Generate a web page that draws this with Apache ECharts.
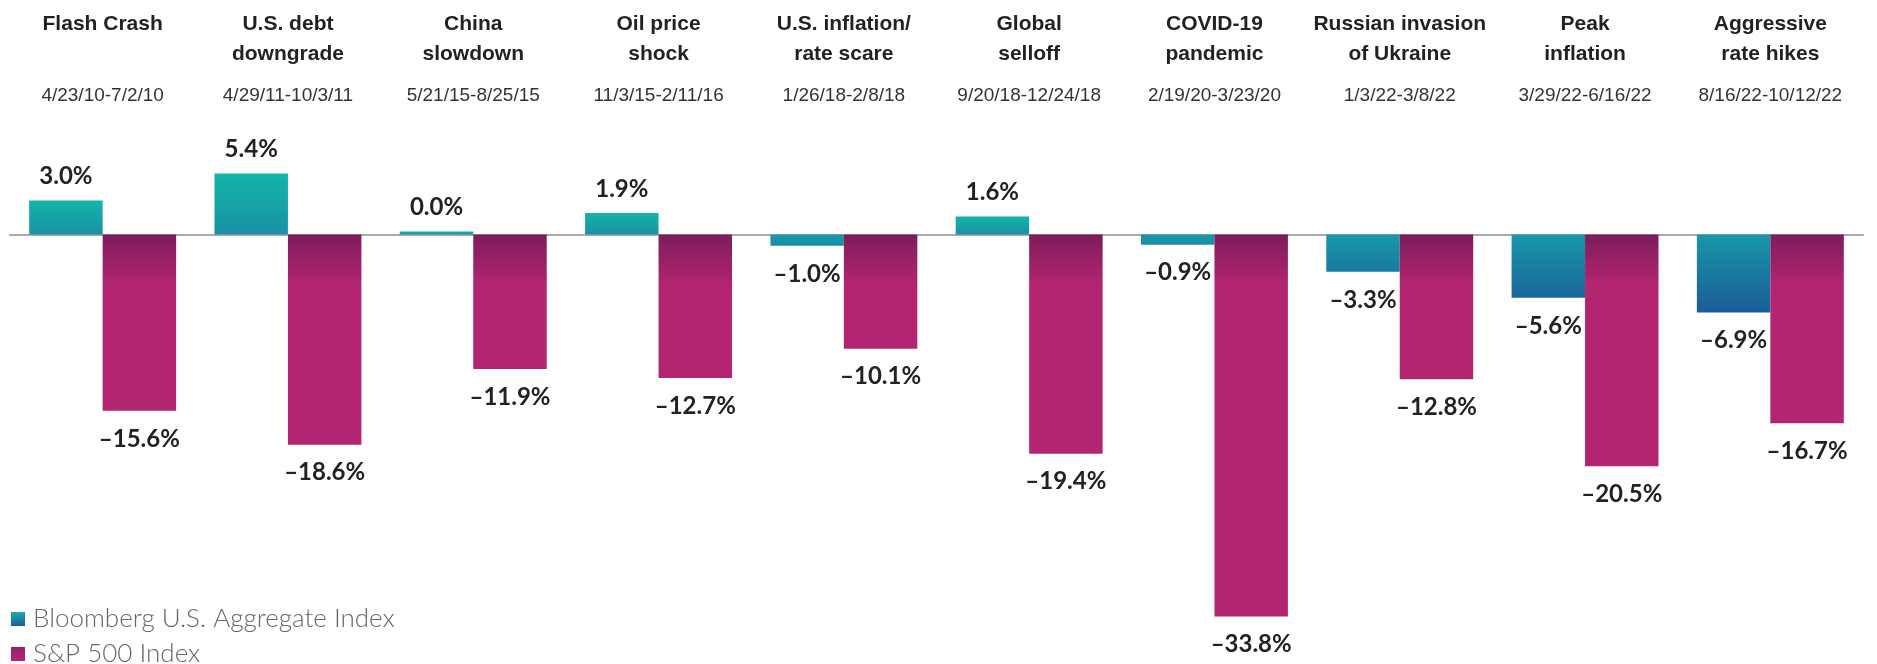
<!DOCTYPE html>
<html>
<head>
<meta charset="utf-8">
<script src="https://cdn.jsdelivr.net/npm/echarts@6/dist/echarts.min.js"></script>
<style>
html,body{margin:0;padding:0;background:#fff;}
#chart{width:1877px;height:664px;}
</style>
</head>
<body>
<div id="chart"></div>
<script>
// ---- data ----
const categories = [
  "Flash Crash", "U.S. debt\ndowngrade", "China\nslowdown", "Oil price\nshock",
  "U.S. inflation/\nrate scare", "Global\nselloff", "COVID-19\npandemic",
  "Russian invasion\nof Ukraine", "Peak\ninflation", "Aggressive\nrate hikes"
];
const dateRanges = [
  "4/23/10-7/2/10", "4/29/11-10/3/11", "5/21/15-8/25/15", "11/3/15-2/11/16",
  "1/26/18-2/8/18", "9/20/18-12/24/18", "2/19/20-3/23/20", "1/3/22-3/8/22",
  "3/29/22-6/16/22", "8/16/22-10/12/22"
];
const bloombergValues = [3.0, 5.4, 0.0, 1.9, -1.0, 1.6, -0.9, -3.3, -5.6, -6.9];
const sp500Values = [-15.6, -18.6, -11.9, -12.7, -10.1, -19.4, -33.8, -12.8, -20.5, -16.7];
const seriesNames = ["Bloomberg U.S. Aggregate Index", "S&P 500 Index"];

// ---- styling helpers ----
function hexToRgb(h){h=h.replace('#','');return [0,2,4].map(i=>parseInt(h.substr(i,2),16));}
function lerpColor(a,b,t){const A=hexToRgb(a),B=hexToRgb(b);return 'rgb('+A.map((v,i)=>Math.round(v+(B[i]-v)*t)).join(',')+')';}
function grad(stops){return new echarts.graphic.LinearGradient(0,0,0,1,stops);}

function bloombergColor(v){
  if (v >= 0) return grad([{offset:0,color:'#13b5a8'},{offset:1,color:'#1a91a5'}]);
  const t = Math.min(1, Math.abs(v)/7);
  return grad([{offset:0,color:'#1897a8'},{offset:1,color:lerpColor('#1897a8','#1a5b99',t)}]);
}
function spColor(v){
  const o = Math.min(1, 4.5/Math.max(Math.abs(v),0.01));
  return grad([{offset:0,color:'#7b1d5b'},{offset:o,color:'#b42571'},{offset:1,color:'#b42571'}]);
}
function fmt(v){ return (v < 0 ? '\u2013' + Math.abs(v).toFixed(1) : v.toFixed(1)) + '%'; }
function toItems(vals, colorFn){
  return vals.map(v => ({
    value: v,
    itemStyle: { color: colorFn(v) },
    label: v >= 0 ? { position: 'top', distance: 12 } : { position: 'bottom', distance: 16 }
  }));
}

const labelStyle = {
  show: true,
  formatter: p => fmt(p.value),
  fontFamily: 'Lato, "Open Sans", sans-serif',
  fontSize: 24,
  fontWeight: 'bold',
  color: '#222'
};

const chart = echarts.init(document.getElementById('chart'));
chart.setOption({
  animation: false,
  backgroundColor: '#fff',
  grid: { left: 10, right: 14, top: 121.5, bottom: 34, containLabel: false },
  legend: {
    orient: 'vertical',
    left: 11,
    top: 606,
    height: 120,
    padding: 0,
    itemWidth: 14,
    itemHeight: 14,
    itemGap: 9,
    icon: 'rect',
    textStyle: { fontFamily: 'Lato, sans-serif', fontWeight: 300, fontSize: 26, color: '#666', lineHeight: 24, padding: [0,0,0,3] },
    data: [
      { name: seriesNames[0], itemStyle: { color: grad([{offset:0,color:'#16b0a8'},{offset:1,color:'#1a5e9a'}]) } },
      { name: seriesNames[1], itemStyle: { color: grad([{offset:0,color:'#9a2068'},{offset:1,color:'#b42571'}]) } }
    ]
  },
  xAxis: [
    {
      type: 'category',
      data: categories,
      axisLine: { onZero: true, lineStyle: { color: '#aaaaaa', width: 2 } },
      axisTick: { show: false },
      axisLabel: { show: false },
      splitLine: { show: false }
    },
    {
      type: 'category',
      position: 'top',
      data: categories,
      axisLine: { show: false },
      axisTick: { show: false },
      axisLabel: {
        show: true,
        interval: 0,
        margin: -1,
        formatter: (val, idx) => {
          const parts = val.split('\n');
          return '{n|' + parts[0] + '}\n{n|' + (parts[1] || ' ') + '}\n{d|' + dateRanges[idx] + '}';
        },
        rich: {
          n: { fontFamily: '"Liberation Sans Narrow", "Arial Narrow", sans-serif', fontWeight: 'bold', fontSize: 21, lineHeight: 30, color: '#222' },
          d: { fontFamily: '"Liberation Sans Narrow", "Arial Narrow", sans-serif', fontSize: 19, lineHeight: 53, color: '#333' }
        }
      }
    }
  ],
  yAxis: {
    type: 'value',
    min: -35,
    max: 10,
    show: false,
    splitLine: { show: false }
  },
  series: [
    {
      name: seriesNames[0],
      type: 'bar',
      xAxisIndex: 0,
      barGap: '0%',
      barCategoryGap: '20.7%',
      barMinHeight: 3,
      data: toItems(bloombergValues, bloombergColor),
      label: labelStyle
    },
    {
      name: seriesNames[1],
      type: 'bar',
      xAxisIndex: 0,
      barGap: '0%',
      barCategoryGap: '20.7%',
      data: toItems(sp500Values, spColor),
      label: labelStyle
    }
  ]
});
</script>
</body>
</html>
